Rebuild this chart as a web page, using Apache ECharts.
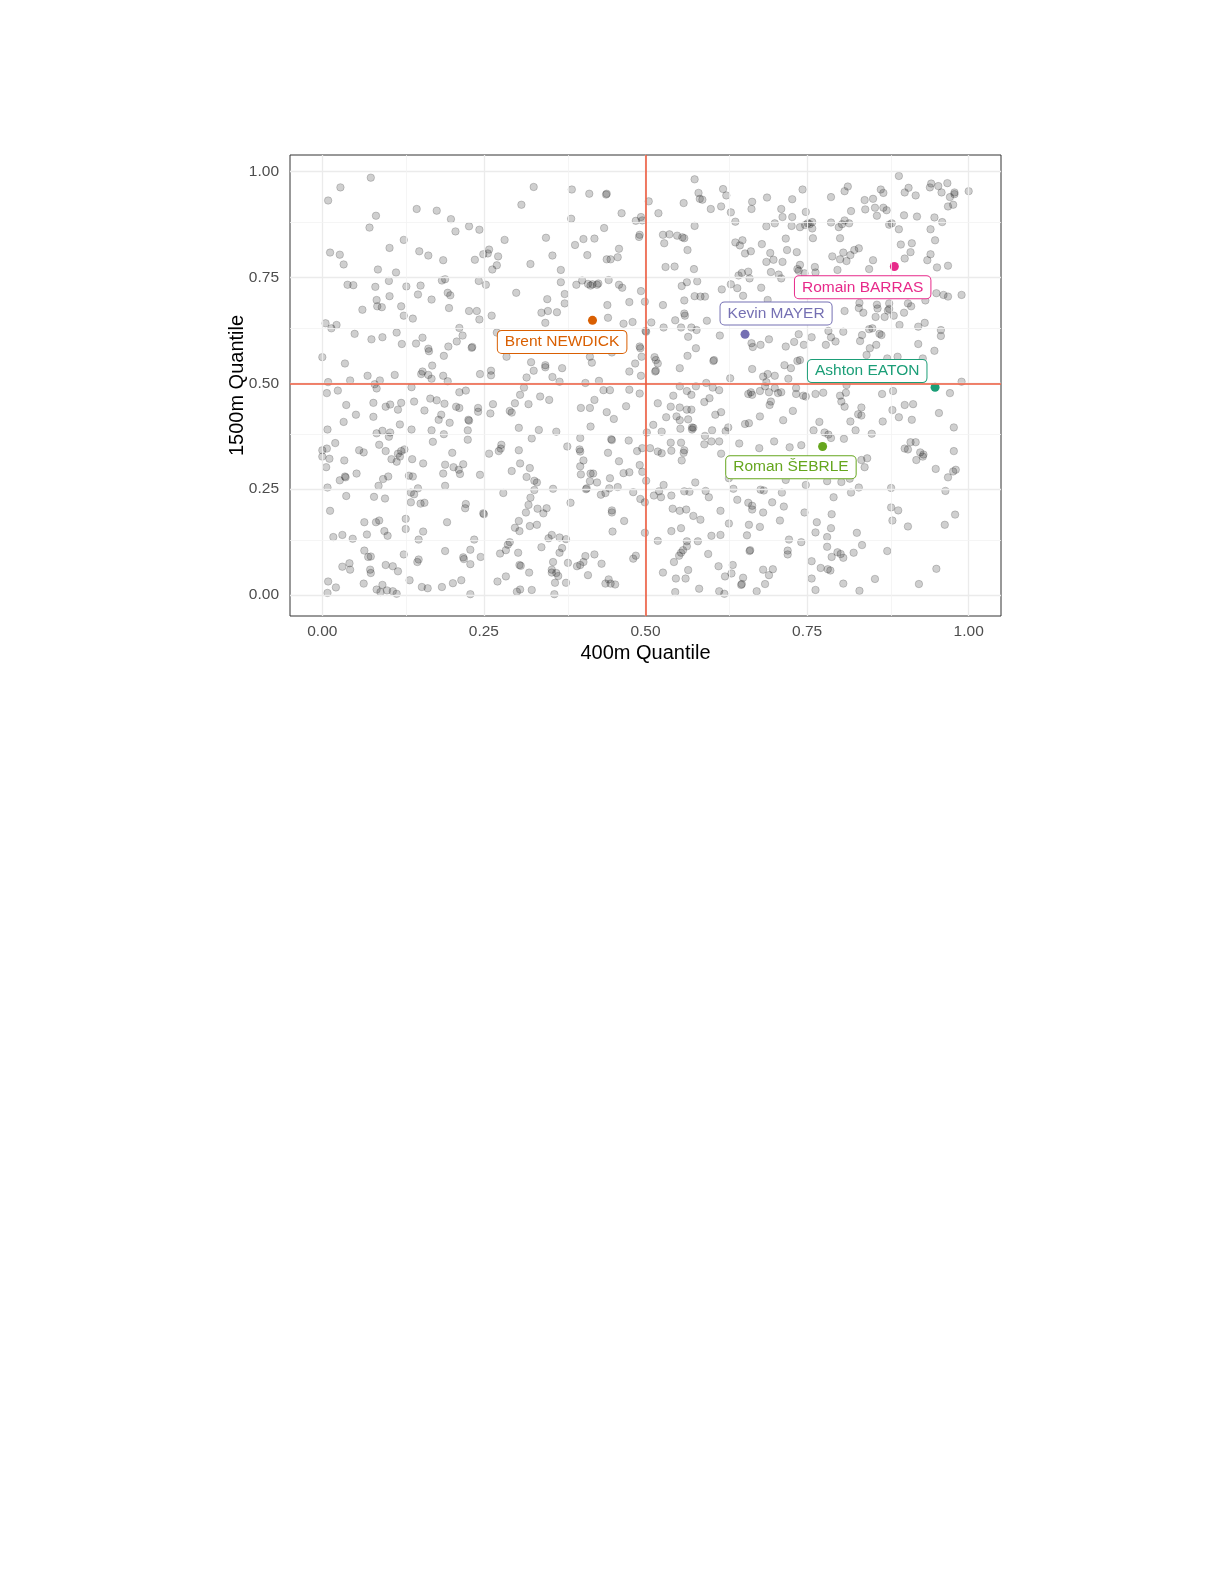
<!DOCTYPE html>
<html>
<head>
  <meta charset="UTF-8">
  <title>400m vs 1500m quantile</title>
  <script src="https://cdn.jsdelivr.net/npm/echarts@6/dist/echarts.min.js"></script>
  <style>
    html, body { margin: 0; padding: 0; background: #fff; }
  </style>
</head>
<body>
<div id="main" style="width: 1225px; height:1585px;"></div>

<script type="text/javascript">
  // all athletes, [400m quantile, 1500m quantile]
  var topLeft = [[0.075,0.986],[0.028,0.963],[0.009,0.932],[0.083,0.896],[0.073,0.868],[0.146,0.912],[0.177,0.908],[0.199,0.888],[0.206,0.859],[0.227,0.871],[0.243,0.863],[0.282,0.839],[0.126,0.839],[0.104,0.820],[0.012,0.809],[0.027,0.804],[0.033,0.781],[0.086,0.769],[0.114,0.762],[0.150,0.812],[0.164,0.802],[0.187,0.791],[0.236,0.792],[0.249,0.805],[0.258,0.816],[0.256,0.807],[0.272,0.800],[0.270,0.779],[0.263,0.769],[0.103,0.742],[0.130,0.729],[0.152,0.731],[0.185,0.743],[0.190,0.746],[0.242,0.742],[0.253,0.733],[0.039,0.733],[0.048,0.732],[0.082,0.728],[0.104,0.706],[0.148,0.710],[0.169,0.698],[0.194,0.714],[0.198,0.708],[0.084,0.697],[0.300,0.714],[0.308,0.922]];

  var midLeft = [[0.062,0.674],[0.085,0.682],[0.092,0.680],[0.122,0.682],[0.126,0.660],[0.140,0.653],[0.196,0.678],[0.227,0.671],[0.239,0.671],[0.243,0.651],[0.262,0.660],
    [0.005,0.642],[0.014,0.630],[0.022,0.638],[0.050,0.617],[0.076,0.604],[0.093,0.609],[0.115,0.620],[0.123,0.593],[0.145,0.594],[0.155,0.608],[0.164,0.582],[0.165,0.576],[0.212,0.631],[0.217,0.613],[0.208,0.599],[0.195,0.587],[0.188,0.565],[0.231,0.584],[0.232,0.586],[0.270,0.620],[0.285,0.563],
    [0.000,0.562],[0.035,0.547],[0.170,0.542],[0.155,0.528],[0.153,0.522],[0.164,0.520],[0.169,0.511],[0.187,0.518],[0.194,0.505],[0.112,0.520],[0.070,0.518],[0.089,0.507],[0.043,0.507],[0.009,0.503],[0.081,0.498],[0.084,0.488],[0.138,0.491],[0.244,0.522],[0.261,0.530],[0.261,0.519],
    [0.007,0.477],[0.024,0.483],[0.212,0.479],[0.222,0.483],[0.037,0.449],[0.079,0.454],[0.098,0.445],[0.105,0.450],[0.122,0.454],[0.117,0.438],[0.142,0.457],[0.167,0.464],[0.177,0.460],[0.189,0.452],[0.158,0.436],[0.207,0.445],[0.212,0.442],[0.241,0.442],[0.241,0.433],[0.264,0.451],[0.260,0.429],[0.298,0.453],[0.290,0.435],[0.293,0.431],[0.306,0.473],
    [0.052,0.426],[0.079,0.421],[0.184,0.426],[0.180,0.414],[0.197,0.407],[0.226,0.414],[0.227,0.412],[0.033,0.409],[0.120,0.403],[0.008,0.391],[0.084,0.382],[0.093,0.388],[0.105,0.384],[0.103,0.374],[0.138,0.391],[0.169,0.389],[0.188,0.380],[0.225,0.389],[0.225,0.367],[0.304,0.395],
    [0.020,0.359],[0.088,0.355],[0.171,0.362],[0.000,0.342],[0.007,0.346],[0.057,0.342],[0.064,0.337],[0.098,0.340],[0.117,0.334],[0.122,0.340],[0.127,0.344],[0.201,0.336],[0.258,0.334],[0.273,0.340],[0.277,0.355],[0.276,0.346],[0.304,0.342]];

  var botLeft = [[0.000,0.327],[0.011,0.322],[0.034,0.318],[0.006,0.302],[0.027,0.271],[0.035,0.280],[0.036,0.278],[0.053,0.287],[0.008,0.254],[0.037,0.234],[0.012,0.199],
    [0.094,0.274],[0.102,0.280],[0.087,0.258],[0.080,0.232],[0.097,0.228],[0.107,0.321],[0.115,0.315],[0.120,0.327],[0.139,0.321],[0.156,0.311],[0.134,0.282],[0.140,0.280],[0.148,0.252],[0.137,0.242],[0.142,0.238],[0.137,0.219],[0.152,0.216],[0.158,0.218],[0.129,0.180],[0.129,0.156],[0.156,0.150],[0.149,0.131],
    [0.190,0.308],[0.203,0.302],[0.211,0.296],[0.213,0.286],[0.218,0.309],[0.187,0.287],[0.190,0.258],[0.244,0.284],[0.222,0.215],[0.221,0.205],[0.249,0.193],[0.250,0.191],[0.280,0.241],[0.293,0.293],[0.306,0.311],
    [0.065,0.172],[0.083,0.172],[0.088,0.176],[0.096,0.151],[0.101,0.140],[0.069,0.143],[0.047,0.133],[0.031,0.142],[0.017,0.137],[0.193,0.172],[0.235,0.131],[0.229,0.107],[0.245,0.090],[0.190,0.104],[0.218,0.089],[0.219,0.085],[0.229,0.073],[0.275,0.098],[0.284,0.106],[0.287,0.119],[0.290,0.125],[0.304,0.175],[0.298,0.159],[0.305,0.151],[0.303,0.100],[0.305,0.071],[0.307,0.069],
    [0.065,0.105],[0.071,0.090],[0.075,0.091],[0.126,0.096],[0.149,0.084],[0.147,0.078],[0.042,0.075],[0.031,0.067],[0.043,0.060],[0.074,0.060],[0.075,0.052],[0.098,0.071],[0.109,0.068],[0.117,0.056],[0.135,0.035],[0.009,0.032],[0.021,0.018],[0.008,0.005],[0.064,0.027],[0.093,0.024],[0.084,0.013],[0.090,0.007],[0.100,0.011],[0.109,0.009],[0.115,0.003],[0.154,0.019],[0.163,0.016],[0.185,0.019],[0.202,0.028],[0.215,0.035],[0.229,0.002],[0.271,0.032],[0.284,0.044],[0.301,0.008],[0.306,0.013]];

  var topMid = [[0.327,0.964],[0.386,0.958],[0.413,0.948],[0.439,0.946],[0.440,0.948],[0.385,0.889],[0.463,0.902],[0.485,0.884],[0.493,0.893],[0.495,0.885],[0.505,0.930],[0.520,0.902],[0.559,0.926],[0.576,0.982],[0.582,0.950],[0.584,0.936],[0.588,0.934],[0.620,0.959],[0.625,0.944],[0.601,0.912],[0.617,0.918],[0.632,0.904],[0.639,0.882],[0.665,0.929],[0.664,0.912],[0.576,0.872],[0.436,0.867],[0.346,0.844],[0.404,0.841],[0.421,0.842],[0.391,0.827],[0.356,0.802],[0.410,0.803],[0.322,0.782],[0.459,0.818],[0.440,0.793],[0.446,0.793],[0.457,0.798],[0.491,0.851],[0.490,0.846],[0.527,0.851],[0.537,0.852],[0.549,0.849],[0.557,0.845],[0.560,0.843],[0.529,0.831],[0.565,0.815],[0.531,0.775],[0.545,0.776],[0.575,0.770],[0.639,0.833],[0.650,0.838],[0.646,0.826],[0.654,0.807],[0.663,0.812],[0.369,0.768],[0.369,0.739],[0.393,0.733],[0.402,0.743],[0.411,0.735],[0.415,0.731],[0.418,0.734],[0.427,0.736],[0.425,0.733],[0.443,0.744],[0.459,0.733],[0.464,0.726],[0.375,0.711],[0.348,0.699],[0.493,0.718],[0.499,0.693],[0.564,0.739],[0.556,0.730],[0.580,0.741],[0.560,0.696],[0.576,0.706],[0.585,0.705],[0.592,0.705],[0.618,0.722],[0.632,0.734],[0.642,0.725],[0.651,0.707],[0.644,0.755],[0.649,0.761],[0.659,0.764],[0.661,0.748],[0.375,0.689],[0.475,0.692],[0.527,0.685],[0.441,0.685]];

  var midMid = [[0.339,0.667],[0.349,0.671],[0.363,0.668],[0.345,0.643],[0.442,0.655],[0.480,0.645],[0.466,0.641],[0.509,0.644],[0.528,0.632],[0.546,0.649],[0.560,0.665],[0.561,0.660],[0.555,0.632],[0.571,0.632],[0.579,0.626],[0.566,0.610],[0.595,0.648],[0.615,0.613],[0.501,0.622],[0.500,0.624],[0.491,0.587],[0.492,0.583],[0.494,0.563],[0.514,0.562],[0.516,0.555],[0.519,0.547],[0.515,0.528],[0.516,0.530],[0.484,0.547],[0.475,0.528],[0.493,0.518],[0.578,0.583],[0.565,0.565],[0.605,0.553],[0.606,0.555],[0.553,0.536],[0.631,0.512],[0.664,0.595],[0.666,0.586],[0.665,0.534],
    [0.414,0.563],[0.417,0.549],[0.448,0.573],[0.371,0.536],[0.345,0.543],[0.345,0.538],[0.327,0.530],[0.323,0.550],[0.316,0.514],[0.356,0.515],[0.367,0.504],[0.407,0.501],[0.428,0.506],[0.312,0.490],[0.435,0.484],[0.445,0.484],[0.475,0.485],[0.491,0.476],[0.553,0.493],[0.564,0.482],[0.571,0.473],[0.578,0.493],[0.594,0.501],[0.543,0.471],[0.604,0.490],[0.614,0.484],[0.599,0.465],[0.591,0.456],[0.659,0.475],[0.663,0.479],[0.665,0.473],
    [0.319,0.451],[0.337,0.469],[0.351,0.461],[0.421,0.461],[0.400,0.442],[0.414,0.442],[0.470,0.446],[0.519,0.453],[0.440,0.432],[0.451,0.416],[0.539,0.445],[0.553,0.443],[0.564,0.438],[0.571,0.438],[0.532,0.420],[0.548,0.422],[0.553,0.413],[0.566,0.415],[0.608,0.426],[0.617,0.432],[0.574,0.395],[0.572,0.391],[0.572,0.396],[0.512,0.402],[0.525,0.386],[0.502,0.384],[0.554,0.393],[0.592,0.376],[0.603,0.389],[0.624,0.387],[0.628,0.396],[0.654,0.404],[0.660,0.406],[0.415,0.398],[0.362,0.386],[0.335,0.390],[0.399,0.371],[0.324,0.370],[0.447,0.368],[0.448,0.366],[0.474,0.365],
    [0.398,0.344],[0.399,0.339],[0.442,0.336],[0.379,0.351],[0.487,0.340],[0.495,0.347],[0.507,0.347],[0.519,0.339],[0.525,0.335],[0.539,0.360],[0.555,0.360],[0.540,0.341],[0.560,0.342],[0.559,0.336],[0.591,0.356],[0.602,0.363],[0.614,0.363],[0.617,0.334],[0.645,0.358]];

  var botMid = [[0.321,0.300],[0.316,0.279],[0.328,0.270],[0.332,0.266],[0.328,0.248],[0.322,0.230],[0.319,0.213],[0.333,0.204],[0.347,0.205],[0.342,0.193],[0.315,0.195],[0.321,0.163],[0.332,0.166],[0.357,0.251],[0.384,0.218],[0.399,0.304],[0.404,0.318],[0.400,0.285],[0.415,0.287],[0.419,0.287],[0.414,0.269],[0.425,0.266],[0.408,0.250],[0.409,0.252],[0.431,0.237],[0.438,0.241],[0.444,0.252],[0.457,0.255],[0.445,0.276],[0.459,0.316],[0.466,0.288],[0.475,0.290],[0.491,0.307],[0.495,0.291],[0.501,0.270],[0.481,0.243],[0.492,0.227],[0.499,0.219],[0.448,0.200],[0.448,0.195],[0.467,0.175],[0.449,0.150],[0.499,0.147],
    [0.350,0.134],[0.355,0.142],[0.367,0.136],[0.377,0.132],[0.339,0.113],[0.371,0.111],[0.367,0.100],[0.320,0.053],[0.357,0.078],[0.355,0.060],[0.355,0.053],[0.362,0.052],[0.365,0.045],[0.360,0.029],[0.380,0.076],[0.377,0.029],[0.394,0.068],[0.399,0.071],[0.404,0.078],[0.407,0.092],[0.421,0.096],[0.432,0.074],[0.411,0.047],[0.443,0.037],[0.438,0.027],[0.446,0.027],[0.453,0.025],[0.481,0.086],[0.485,0.093],[0.324,0.012],[0.359,0.002],
    [0.556,0.318],[0.528,0.260],[0.521,0.245],[0.513,0.235],[0.524,0.231],[0.540,0.235],[0.560,0.245],[0.568,0.244],[0.577,0.266],[0.593,0.246],[0.598,0.231],[0.542,0.204],[0.553,0.199],[0.563,0.202],[0.574,0.187],[0.585,0.178],[0.616,0.199],[0.629,0.169],[0.540,0.151],[0.555,0.158],[0.519,0.128],[0.564,0.127],[0.564,0.115],[0.555,0.100],[0.552,0.093],[0.558,0.106],[0.581,0.127],[0.602,0.140],[0.616,0.142],[0.597,0.097],[0.544,0.078],[0.527,0.053],[0.566,0.059],[0.547,0.039],[0.562,0.039],[0.546,0.007],[0.583,0.015],[0.613,0.068],[0.635,0.071],[0.633,0.051],[0.623,0.044],[0.651,0.041],[0.648,0.024],[0.649,0.026],[0.614,0.009],[0.622,0.003],[0.629,0.276],[0.636,0.251],[0.642,0.225],[0.659,0.218],[0.665,0.211],[0.665,0.202],[0.660,0.166],[0.657,0.141],[0.661,0.104],[0.662,0.106]];

  var topRight = [[0.892,0.990],[0.688,0.939],[0.727,0.935],[0.743,0.958],[0.710,0.912],[0.712,0.893],[0.727,0.893],[0.748,0.905],[0.787,0.940],[0.808,0.954],[0.813,0.965],[0.839,0.933],[0.852,0.936],[0.864,0.958],[0.868,0.950],[0.840,0.911],[0.855,0.915],[0.868,0.915],[0.873,0.909],[0.858,0.896],[0.818,0.907],[0.901,0.951],[0.907,0.962],[0.918,0.944],[0.940,0.963],[0.942,0.972],[0.953,0.966],[0.967,0.973],[0.958,0.951],[0.971,0.940],[0.978,0.951],[0.978,0.947],[0.968,0.918],[0.976,0.922],[1.000,0.954],[0.900,0.897],[0.920,0.894],[0.947,0.892],[0.959,0.881],[0.941,0.864],[0.948,0.838],
    [0.687,0.871],[0.700,0.878],[0.726,0.872],[0.739,0.869],[0.747,0.874],[0.751,0.878],[0.754,0.876],[0.758,0.881],[0.758,0.866],[0.787,0.880],[0.799,0.869],[0.804,0.876],[0.808,0.885],[0.815,0.878],[0.801,0.843],[0.759,0.843],[0.717,0.842],[0.680,0.829],[0.719,0.815],[0.734,0.810],[0.693,0.808],[0.698,0.792],[0.712,0.787],[0.687,0.787],[0.877,0.875],[0.881,0.878],[0.892,0.864],[0.895,0.828],[0.912,0.831],[0.910,0.810],[0.901,0.795],[0.936,0.791],[0.941,0.805],[0.951,0.774],[0.968,0.778],
    [0.789,0.800],[0.801,0.793],[0.806,0.809],[0.811,0.789],[0.817,0.803],[0.823,0.815],[0.830,0.819],[0.852,0.791],[0.846,0.770],[0.739,0.780],[0.735,0.770],[0.737,0.766],[0.762,0.775],[0.763,0.762],[0.746,0.760],[0.694,0.763],[0.706,0.757],[0.710,0.748],[0.797,0.768],[0.679,0.726],[0.689,0.697],[0.950,0.713],[0.961,0.709],[0.968,0.705],[0.989,0.709],[0.933,0.696],[0.831,0.690],[0.858,0.686],[0.877,0.689],[0.906,0.689]];

  var midRight = [[0.808,0.671],[0.830,0.678],[0.837,0.667],[0.856,0.657],[0.859,0.677],[0.870,0.657],[0.875,0.672],[0.877,0.676],[0.884,0.660],[0.900,0.667],[0.911,0.682],[0.893,0.638],[0.922,0.634],[0.932,0.643],[0.957,0.626],[0.957,0.612],[0.806,0.622],[0.783,0.624],[0.787,0.609],[0.794,0.599],[0.779,0.591],[0.757,0.609],[0.737,0.616],[0.730,0.598],[0.745,0.591],[0.717,0.587],[0.691,0.604],[0.678,0.591],[0.835,0.614],[0.846,0.628],[0.851,0.630],[0.862,0.617],[0.865,0.614],[0.832,0.600],[0.857,0.591],[0.847,0.583],[0.842,0.567],[0.874,0.559],[0.890,0.563],[0.922,0.593],[0.947,0.577],[0.929,0.559],[0.739,0.555],[0.735,0.553],[0.715,0.543],[0.725,0.536],
    [0.682,0.516],[0.689,0.522],[0.700,0.518],[0.721,0.511],[0.687,0.503],[0.685,0.493],[0.700,0.489],[0.691,0.479],[0.694,0.457],[0.692,0.449],[0.705,0.477],[0.710,0.479],[0.677,0.482],[0.733,0.489],[0.733,0.475],[0.744,0.471],[0.748,0.469],[0.763,0.475],[0.775,0.478],[0.801,0.471],[0.803,0.457],[0.808,0.445],[0.811,0.496],[0.810,0.478],[0.866,0.475],[0.883,0.482],[0.971,0.477],[0.989,0.504],
    [0.901,0.449],[0.914,0.451],[0.882,0.437],[0.892,0.420],[0.912,0.414],[0.954,0.430],[0.977,0.396],[0.834,0.443],[0.829,0.427],[0.834,0.424],[0.817,0.410],[0.867,0.410],[0.825,0.389],[0.850,0.381],[0.728,0.435],[0.713,0.413],[0.677,0.422],[0.769,0.409],[0.760,0.389],[0.777,0.384],[0.783,0.379],[0.787,0.371],[0.807,0.369],[0.699,0.363],[0.676,0.347],[0.723,0.349],[0.741,0.354],[0.901,0.346],[0.906,0.344],[0.910,0.361],[0.918,0.361],[0.925,0.337],[0.930,0.332],[0.977,0.340]];

  var botRight = [[0.834,0.319],[0.843,0.323],[0.839,0.302],[0.919,0.319],[0.929,0.327],[0.949,0.298],[0.968,0.278],[0.976,0.292],[0.980,0.296],[0.964,0.246],[0.880,0.253],[0.717,0.272],[0.748,0.260],[0.781,0.269],[0.803,0.267],[0.816,0.275],[0.830,0.254],[0.818,0.242],[0.678,0.249],[0.683,0.247],[0.711,0.242],[0.791,0.231],[0.696,0.219],[0.714,0.209],[0.682,0.195],[0.746,0.195],[0.788,0.191],[0.708,0.176],[0.677,0.161],[0.765,0.172],[0.787,0.158],[0.763,0.148],[0.781,0.137],[0.827,0.147],[0.880,0.207],[0.891,0.200],[0.882,0.176],[0.906,0.162],[0.963,0.166],[0.979,0.190],
    [0.722,0.131],[0.741,0.125],[0.720,0.105],[0.720,0.096],[0.781,0.114],[0.797,0.101],[0.802,0.097],[0.806,0.088],[0.788,0.090],[0.822,0.100],[0.835,0.118],[0.874,0.104],[0.757,0.080],[0.771,0.064],[0.782,0.061],[0.786,0.058],[0.682,0.060],[0.697,0.061],[0.691,0.047],[0.685,0.026],[0.672,0.009],[0.757,0.039],[0.763,0.012],[0.806,0.027],[0.831,0.010],[0.855,0.038],[0.923,0.026],[0.950,0.062]];

  // highlighted athletes
  var athletes = ['Brent NEWDICK', 'Kevin MAYER', 'Romain BARRAS', 'Ashton EATON', 'Roman ŠEBRLE'];
  var athleteX = [0.418, 0.654, 0.885, 0.948, 0.774];
  var athleteY = [0.649, 0.616, 0.776, 0.491, 0.351];
  var athleteColors = ['#D95F02', '#7570B3', '#E7298A', '#1B9E77', '#66A61E'];
  // where the repelled label boxes sit (data units)
  var labelX = [0.371, 0.702, 0.836, 0.843, 0.725];
  var labelY = [0.598, 0.665, 0.727, 0.529, 0.302];

  var tickValues = [0, 0.25, 0.5, 0.75, 1];
  var minorValues = [0.125, 0.375, 0.625, 0.875];
  var medianLine = 0.5;

  var FONT = '"Liberation Sans", Arial, Helvetica, sans-serif';

  var allPoints = [].concat(topLeft, midLeft, botLeft, topMid, midMid, botMid, topRight, midRight, botRight);

  var gridLines = [];
  tickValues.forEach(function (v) {
    gridLines.push({xAxis: v, lineStyle: {color: '#EBEBEB', width: 1.3, type: 'solid'}});
    gridLines.push({yAxis: v, lineStyle: {color: '#EBEBEB', width: 1.3, type: 'solid'}});
  });
  minorValues.forEach(function (v) {
    gridLines.push({xAxis: v, lineStyle: {color: '#F2F2F2', width: 0.8, type: 'solid'}});
    gridLines.push({yAxis: v, lineStyle: {color: '#F2F2F2', width: 0.8, type: 'solid'}});
  });

  var myChart = echarts.init(document.getElementById('main'), null, {renderer: 'canvas'});

  var option = {
    animation: false,
    textStyle: {fontFamily: FONT},
    grid: {
      left: 290,
      right: 224,
      top: 155,
      bottom: 969,
      show: true,
      borderColor: '#333333',
      borderWidth: 1,
      backgroundColor: '#fff'
    },
    xAxis: {
      type: 'value',
      min: -0.05,
      max: 1.05,
      name: '400m Quantile',
      nameLocation: 'middle',
      nameGap: 27.5,
      nameMoveOverlap: false,
      nameTextStyle: {fontSize: 20, color: '#000', fontFamily: FONT},
      axisLine: {show: false},
      splitLine: {show: false},
      axisTick: {show: true, length: 4.5, customValues: tickValues, lineStyle: {color: '#333333'}},
      axisLabel: {
        customValues: tickValues,
        margin: 8,
        fontSize: 15.5,
        color: '#4D4D4D',
        fontFamily: FONT,
        formatter: function (v) { return v.toFixed(2); }
      }
    },
    yAxis: {
      type: 'value',
      min: -0.0495,
      max: 1.0395,
      name: '1500m Quantile',
      nameLocation: 'middle',
      nameGap: 43,
      nameMoveOverlap: false,
      nameTextStyle: {fontSize: 20, color: '#000', fontFamily: FONT},
      axisLine: {show: false},
      splitLine: {show: false},
      axisTick: {show: true, length: 4.5, customValues: tickValues, lineStyle: {color: '#333333'}},
      axisLabel: {
        customValues: tickValues,
        margin: 11,
        fontSize: 15.5,
        color: '#4D4D4D',
        fontFamily: FONT,
        formatter: function (v) { return v.toFixed(2); }
      }
    },
    series: [
      {
        // panel grid lines
        type: 'scatter',
        data: [],
        silent: true,
        z: 1,
        markLine: {
          silent: true,
          symbol: ['none', 'none'],
          label: {show: false},
          emphasis: {disabled: true},
          data: gridLines
        }
      },
      {
        type: 'scatter',
        data: allPoints,
        symbolSize: 7.5,
        silent: true,
        z: 2,
        itemStyle: {
          opacity: 1,
          color: 'rgba(0,0,0,0.19)',
          borderColor: 'rgba(0,0,0,0.22)',
          borderWidth: 0.8
        }
      },
      {
        // median lines
        type: 'scatter',
        data: [],
        silent: true,
        z: 3,
        markLine: {
          silent: true,
          symbol: ['none', 'none'],
          label: {show: false},
          emphasis: {disabled: true},
          lineStyle: {color: '#EE5B3E', width: 1.6, type: 'solid'},
          data: [{xAxis: medianLine}, {yAxis: medianLine}]
        }
      },
      {
        type: 'scatter',
        symbolSize: 9,
        silent: true,
        z: 4,
        itemStyle: {opacity: 1},
        data: athletes.map(function (n, i) {
          return {name: n, value: [athleteX[i], athleteY[i]], itemStyle: {color: athleteColors[i], opacity: 1}};
        })
      },
      {
        type: 'scatter',
        symbolSize: 1,
        silent: true,
        z: 5,
        itemStyle: {color: 'rgba(0,0,0,0)', opacity: 1},
        data: athletes.map(function (n, i) {
          return {
            name: n,
            value: [labelX[i], labelY[i]],
            label: {color: athleteColors[i], borderColor: athleteColors[i]}
          };
        }),
        label: {
          show: true,
          position: 'inside',
          formatter: '{b}',
          fontSize: 15.5,
          fontFamily: FONT,
          backgroundColor: '#fff',
          borderWidth: 1,
          borderRadius: 4,
          padding: [3, 7, 3, 7]
        }
      }
    ]
  };
  myChart.setOption(option);
</script>
</body>
</html>
